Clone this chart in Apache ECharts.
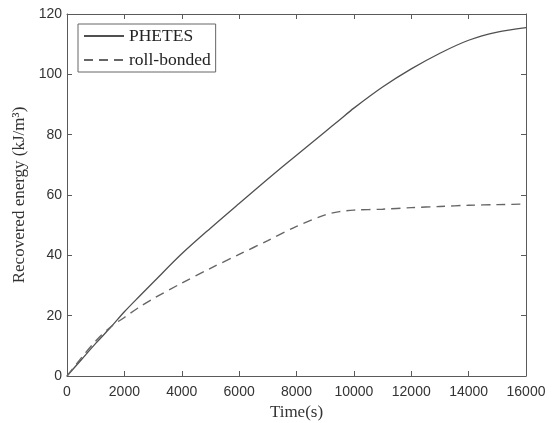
<!DOCTYPE html>
<html>
<head>
<meta charset="utf-8">
<script src="https://cdn.jsdelivr.net/npm/echarts@6/dist/echarts.min.js"></script>
<style>html,body{margin:0;padding:0;background:#fff}#c{width:553px;height:423px}</style>
</head>
<body>
<div id="c"></div>
<script>
const timeS = [0,500,1000,1500,2000,2500,3000,4000,5000,6000,7000,8000,9000,9500,10000,11000,12000,13000,14000,15000,16000];
const phetes = [0,5.4,10.8,15.9,21.3,26.2,31,40.5,49,57.2,65.3,73.2,81,84.9,88.8,95.8,101.8,107,111.3,114,115.5];
const rollBonded = [0,6,11.6,16.1,19.4,22.7,25.6,30.8,35.7,40.3,44.9,49.6,53.4,54.5,55,55.3,55.8,56.2,56.6,56.8,57];
const xTicks = [0,2000,4000,6000,8000,10000,12000,14000,16000];
const yTicks = [0,20,40,60,80,100,120];

const toPairs = (ys) => timeS.map((t,i)=>[t, ys[i]]);
const axisCol = '#5a5a5a';
const line = {show:true, onZero:false, lineStyle:{color:axisCol, width:1}};
const tick = {show:true, inside:true, length:5, lineStyle:{color:axisCol, width:1}};
const labelStyle = {fontFamily:'Liberation Sans', fontSize:14, color:'#333'};
const chart = echarts.init(document.getElementById('c'), null, {renderer:'canvas'});
chart.setOption({
  animation:false,
  backgroundColor:'#fff',
  grid:{left:67,right:27,top:14,bottom:47,containLabel:false,outerBoundsMode:'none'},
  legend:{
    left:78, top:24, orient:'vertical',
    itemWidth:40, itemHeight:14, itemGap:6,
    padding:[3,5,3,5],
    borderColor:'#666', borderWidth:1,
    backgroundColor:'#fff',
    itemStyle:{opacity:0},
    textStyle:{fontFamily:'Liberation Serif', fontSize:17.5, lineHeight:17, color:'#222'},
    data:['PHETES','roll-bonded']
  },
  xAxis:[{
    type:'value', min:0, max:16000, interval:2000,
    name:'Time(s)', nameLocation:'middle', nameGap:24,
    nameTextStyle:{fontFamily:'Liberation Serif', fontSize:17, color:'#333'},
    axisLine:line,
    axisTick:tick,
    axisLabel:Object.assign({margin:9, formatter:(v)=> xTicks.includes(v) ? String(v) : ''}, labelStyle),
    splitLine:{show:false}
  },{
    type:'value', position:'top', min:0, max:16000, interval:2000,
    axisLine:line,
    axisTick:tick,
    axisLabel:{show:false}, splitLine:{show:false}
  }],
  yAxis:[{
    type:'value', min:0, max:120, interval:20,
    name:'Recovered energy (kJ/m³)', nameLocation:'middle', nameGap:30,
    nameTextStyle:{fontFamily:'Liberation Serif', fontSize:17, color:'#333'},
    axisLine:line,
    axisTick:tick,
    axisLabel:Object.assign({margin:5, formatter:(v)=> yTicks.includes(v) ? String(v) : ''}, labelStyle),
    splitLine:{show:false}
  },{
    type:'value', position:'right', min:0, max:120, interval:20,
    axisLine:line,
    axisTick:tick,
    axisLabel:{show:false}, splitLine:{show:false}
  }],
  series:[{
    name:'PHETES', type:'line', data:toPairs(phetes), smooth:0.3, symbol:'none',
    lineStyle:{color:'#505050', width:1.3, type:'solid'}, itemStyle:{color:'#505050'}
  },{
    name:'roll-bonded', type:'line', data:toPairs(rollBonded), smooth:0.3, symbol:'none',
    lineStyle:{color:'#666', width:1.4, type:[9,6]}, itemStyle:{color:'#666'}
  }]
});
</script>
</body>
</html>
